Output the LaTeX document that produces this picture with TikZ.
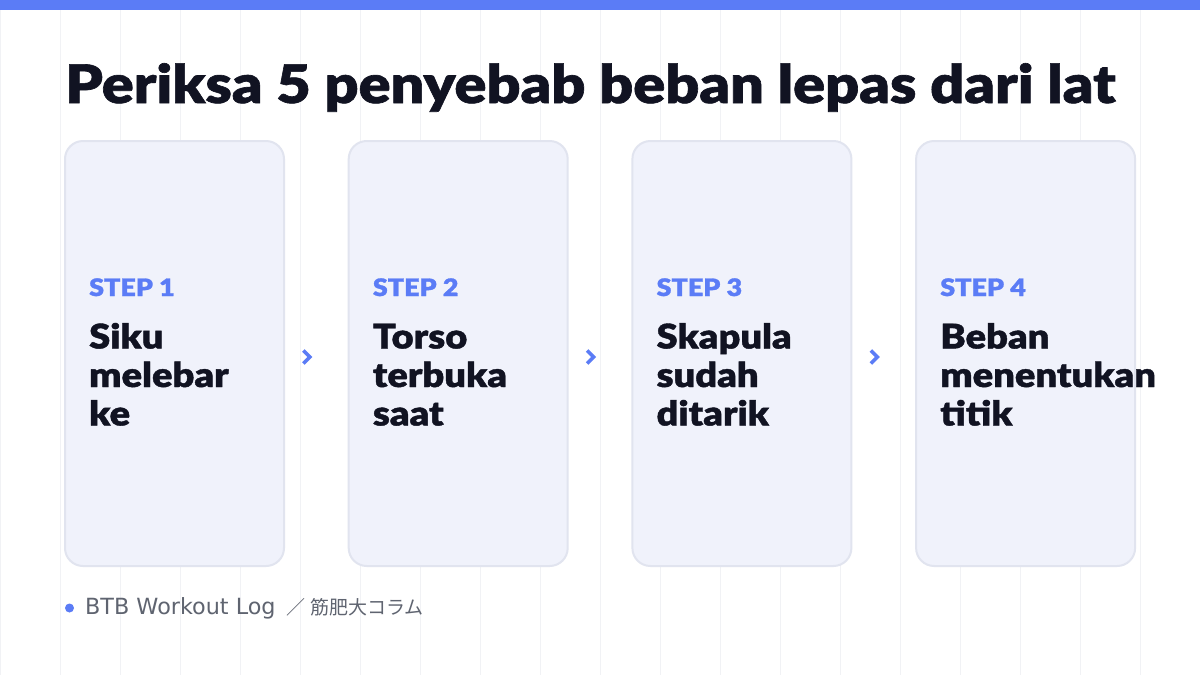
\documentclass[tikz,border=0pt]{standalone}
\usepackage{fontspec}
\usepackage{tikz}
\usetikzlibrary{positioning,calc}
\setmainfont{Lato}
\newfontfamily\heavyfont{Lato Black}[FakeBold=1.2,FakeStretch=1.12]
\newfontfamily\latinfont{DejaVu Sans}
\newfontfamily\cjkfont{Noto Sans CJK JP}

\definecolor{accent}{HTML}{5B7CF6}
\definecolor{ink}{HTML}{111322}
\definecolor{cardfill}{HTML}{F0F2FB}
\definecolor{cardline}{HTML}{E1E4EF}
\definecolor{gridline}{HTML}{F1F2F5}
\definecolor{muted}{HTML}{5F6470}

\begin{document}
\begin{tikzpicture}[x=1pt,y=-1pt,
   card/.style={draw=cardline,line width=2pt,fill=cardfill,rounded corners=18pt,
      minimum width=219pt,minimum height=425pt,inner sep=0pt},
   steplbl/.style={anchor=base west,inner sep=0pt,text=accent,
      font=\heavyfont\fontsize{24}{24}\selectfont},
   bodytxt/.style={anchor=base west,inner sep=0pt,text=ink,align=left,
      font=\heavyfont\fontsize{34}{38.5}\selectfont},
   chev/.style={draw=accent,line width=3.6pt,miter limit=4}]
   \useasboundingbox (0,0) rectangle (1200,675);
   \fill[white] (0,0) rectangle (1200,675);
   \draw[gridline,line width=1pt,step=60] (0,0) grid (1200,675);
   \fill[accent] (0,0) rectangle (1200,10);

   \node[anchor=base west,inner sep=0pt,text=ink,
      font=\heavyfont\fontsize{53}{53}\selectfont] (title) at (65,103)
      {Periksa 5 penyebab beban lepas dari lat};

   \node[card] (card1) at (174.5,353.5) {};
   \node[card] (card2) [right=62.7pt of card1] {};
   \node[card] (card3) [right=62.7pt of card2] {};
   \node[card] (card4) [right=62.7pt of card3] {};

   % base of a three-line node sits on its last line
   \foreach \i/\txt in {1/{Siku\\melebar\\ke},2/{Torso\\terbuka\\saat},
         3/{Skapula\\sudah\\ditarik},4/{Beban\\menentukan\\titik}} {
      \node[steplbl] (step\i) at ([shift={(25pt,-156pt)}]card\i.north west) {STEP \i};
      \node[bodytxt] (body\i) at ([shift={(25pt,-285.5pt)}]card\i.north west) {\txt};
   }

   \foreach \i [evaluate=\i as \j using int(\i+1)] in {1,2,3} {
      \coordinate (arr\i) at ($(card\i.east)!0.35!(card\j.west)+(0,3.5)$);
      \draw[chev] ([shift={(-3.5pt,6.5pt)}]arr\i) -- ([shift={(3pt,0pt)}]arr\i)
         -- ([shift={(-3.5pt,-6.5pt)}]arr\i);
   }

   \fill[accent] (69.5,608) circle (4.5) coordinate (dot);
   \node[anchor=west,inner sep=0pt,text=muted] (footer) at (85,608)
      {\latinfont\fontsize{22.3}{22.3}\selectfont BTB Workout Log
       \cjkfont\fontsize{19}{19}\selectfont\ ／\ 筋肥大コラム};
\end{tikzpicture}
\end{document}
